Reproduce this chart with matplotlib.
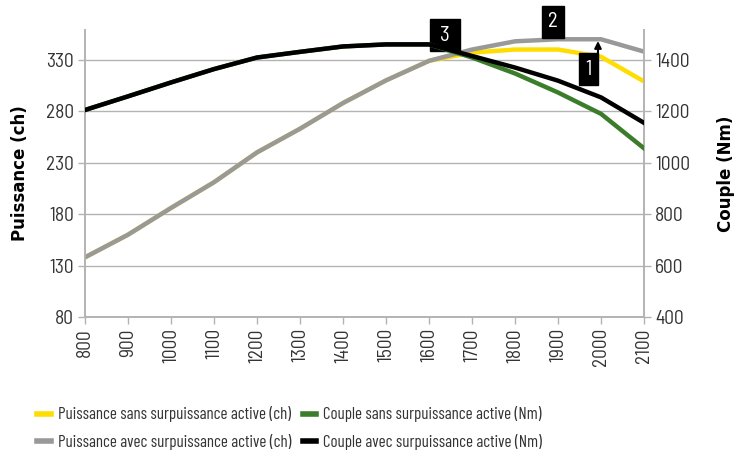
import matplotlib
matplotlib.use("Agg")
from matplotlib import pyplot as plt
from matplotlib.lines import Line2D

plt.rcParams['font.family'] = ['Barlow Semi Condensed', 'DejaVu Sans']

rpm = [800, 900, 1000, 1100, 1200, 1300, 1400, 1500, 1600, 1700, 1800, 1900, 2000, 2100]
power_std = [138, 160, 186, 211, 240, 263, 288, 310, 329, 337, 340, 340, 333, 309]
power_boost = [138, 160, 186, 211, 240, 263, 288, 310, 329, 340, 348, 350, 350, 338]
torque_std = [1205, 1258, 1312, 1364, 1409, 1431, 1452, 1460, 1460, 1409, 1347, 1273, 1190, 1056]
torque_boost = [1205, 1258, 1312, 1364, 1409, 1431, 1452, 1460, 1460, 1415, 1370, 1319, 1254, 1155]

left_ticks = [80, 130, 180, 230, 280, 330]
right_ticks = [400, 600, 800, 1000, 1200, 1400]
labels = ["Puissance sans surpuissance active (ch)", "Puissance avec surpuissance active (ch)",
          "Couple sans surpuissance active (Nm)", "Couple avec surpuissance active (Nm)"]

YELLOW = "#ffdd00"
GREY = "#999999"
GREEN = "#3b7d2a"
BLACK = "#000000"
AXIS = "#b3b3b3"
TEXT = "#333333"

fig = plt.figure(figsize=(7.37, 4.53), dpi=100)
ax = fig.add_axes([85 / 737, 1 - 317 / 453, (644 - 85) / 737, (317 - 30) / 453])
ax2 = ax.twinx()

ax.set_xlim(800, 2100)
ax.set_ylim(80, 359)
ax2.set_ylim(400, 1516)

ax.set_yticks(left_ticks)
ax2.set_yticks(right_ticks)
ax.set_xticks(rpm)
ax.set_xticklabels([str(r) for r in rpm], rotation=90)

ax.grid(axis='y', color=AXIS, linewidth=1)
ax.set_axisbelow(True)

for a in (ax, ax2):
    a.spines['top'].set_visible(False)
    for s in ('left', 'right', 'bottom'):
        a.spines[s].set_color(AXIS)
        a.spines[s].set_linewidth(1.2)
    a.tick_params(colors=AXIS, labelcolor=TEXT, labelsize=14, length=5, width=1, pad=3)

ax.set_ylabel("Puissance (ch)", fontsize=12, fontweight='bold', family='DejaVu Sans', color='black', labelpad=12)
ax2.set_ylabel("Couple (Nm)", fontsize=12, fontweight='bold', family='DejaVu Sans', color='black', labelpad=19)

ax.plot(rpm, power_std, color=YELLOW, lw=3.2, zorder=3, solid_joinstyle='round')
ax.plot(rpm, power_boost, color=GREY, lw=3.2, zorder=4, solid_joinstyle='round')
ax2.plot(rpm, torque_std, color=GREEN, lw=3.2, zorder=3, solid_joinstyle='round')
ax2.plot(rpm, torque_boost, color=BLACK, lw=3.2, zorder=4, solid_joinstyle='round')

# numbered boxes
box = dict(boxstyle='square,pad=0.3', fc='black', ec='black')
ax.text(1637, 354, " 3 ", color='white', fontsize=15, ha='center', va='center', bbox=box, zorder=6, clip_on=False)
ax.text(1888, 367, "2", color='white', fontsize=15, ha='center', va='center', bbox=box, zorder=6, clip_on=False)
ax.text(1970, 321, "1", color='white', fontsize=15, ha='center', va='center', bbox=box, zorder=6)
ax.annotate("", xy=(1993, 351), xytext=(1993, 332),
            arrowprops=dict(arrowstyle='-|>', color='black', lw=1.5, mutation_scale=10), zorder=7)

handles = [Line2D([], [], color=c, lw=4) for c in (YELLOW, GREY, GREEN, BLACK)]
fig.legend(handles, labels, loc='lower left', bbox_to_anchor=(22 / 737, -0.027), ncol=2,
           frameon=False, handlelength=0.8, handletextpad=0.4,
           columnspacing=0.7, labelspacing=0.68, labelcolor=TEXT,
           prop={'family': ['Barlow Condensed', 'DejaVu Sans'], 'size': 12.2})

fig.savefig("out.png", dpi=100)
